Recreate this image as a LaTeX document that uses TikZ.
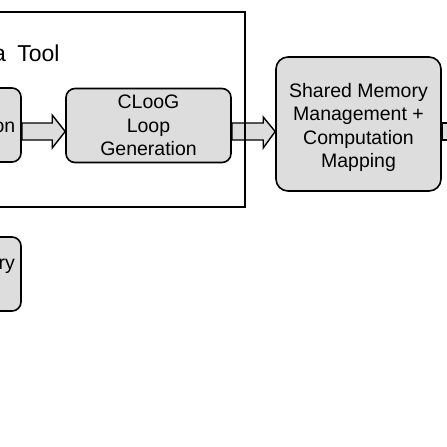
\documentclass[tikz,border=0pt]{standalone}
\usepackage{fontspec}
\setmainfont{Liberation Sans}
\usetikzlibrary{calc}
\definecolor{boxgray}{RGB}{221,221,221}
\begin{document}
\begin{tikzpicture}[x=1pt,y=-1pt,
  boxtext/.style={font=\fontsize{19.5}{23.5}\selectfont},
  box/.style={draw, line width=1.6pt, fill=boxgray, rounded corners=9pt, align=center, boxtext, inner sep=0pt},
  blockarr/.style={draw, line width=1.4pt, fill=boxgray, line join=miter},
  frame/.style={draw, line width=1.8pt, inner sep=0pt}]
\useasboundingbox (0,0) rectangle (447,447);
\clip (0,0) rectangle (447,447);
% boxes
\node[box, minimum width=166pt, minimum height=74pt] (left) at (-62,125) {};
\node[boxtext, anchor=base east, inner sep=0pt] (lefttext) at (15.5,132) {on};
\node[box, minimum width=165pt, minimum height=74pt] (cloog) at (148.5,125.5) {CLooG\\Loop\\Generation};
\node[box, rounded corners=12pt, minimum width=165pt, minimum height=134pt] (shared) at (358.5,124) {};
\node[boxtext, align=center, inner sep=0pt] (sharedtext) at ($(shared.center)+(0,3.5)$) {Shared Memory\\Management +\\Computation\\Mapping};
\node[box, minimum width=166pt, minimum height=74pt] (mem) at (-62,274) {};
\node[boxtext, anchor=base east, inner sep=0pt] (memtext) at (15,269) {ry};
% block arrows
\draw[blockarr] ($(left.east)+(0,-2)$) -- ($(cloog.west)+(-13,-2.5)$) -- ($(cloog.west)+(-13,-10.5)$)
  -- ($(cloog.west)+(0,6)$) -- ($(cloog.west)+(-13,22.5)$) -- ($(cloog.west)+(-13,14.5)$)
  -- ($(left.east)+(0,15)$) -- cycle;
\draw[blockarr] ($(cloog.east)+(0,-2.5)$) -- ($(shared.west)+(-12,-1)$) -- ($(shared.west)+(-12,-7)$)
  -- ($(shared.west)+(0,7.5)$) -- ($(shared.west)+(-12,24)$) -- ($(shared.west)+(-12,16)$)
  -- ($(cloog.east)+(0,14.5)$) -- cycle;
\draw[blockarr] ($(shared.east)+(0,-1)$) rectangle ($(shared.east)+(5.5,16)$);
% frame and title
\node[frame, minimum width=495pt, minimum height=195pt] (toolframe) at (-2.5,109.5) {};
\node[anchor=base east, font=\fontsize{23}{27}\selectfont, inner sep=0pt] (title) at (59.7,61) {a\hspace{5pt} Tool};
\end{tikzpicture}
\end{document}
